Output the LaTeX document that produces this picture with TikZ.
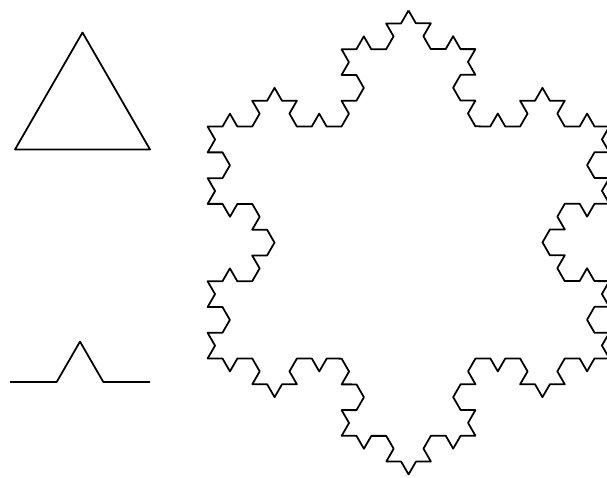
\documentclass[tikz,border=0pt]{standalone}
\usetikzlibrary{decorations.fractals}

\tikzset{
  curve/.style={draw, black, line width=1pt, line join=round},
  koch/.style={decoration=Koch snowflake}
}

\begin{document}
\begin{tikzpicture}[x=0.02cm, y=0.02cm]
  \useasboundingbox (0,0) rectangle (607,477);
  \clip (0,0) rectangle (607,477);
  % initiator
  \coordinate (t1) at (82.5,444.5);
  \coordinate (t2) at (150,327.5);
  \coordinate (t3) at (15,327.5);
  \path[curve] (t1) -- (t2) -- (t3) -- cycle;
  % generator
  \coordinate (g1) at (10,95);
  \coordinate (g2) at (150,95);
  \path[curve, koch] decorate{ (g1) -- (g2) };
  % snowflake, third step
  \coordinate (s1) at (408.5,466.5);
  \coordinate (s2) at (609.4,118.5);
  \coordinate (s3) at (207.6,118.5);
  \path[curve, koch] decorate{ decorate{ decorate{ (s1) -- (s2) -- (s3) -- (s1) }}};
\end{tikzpicture}
\end{document}
